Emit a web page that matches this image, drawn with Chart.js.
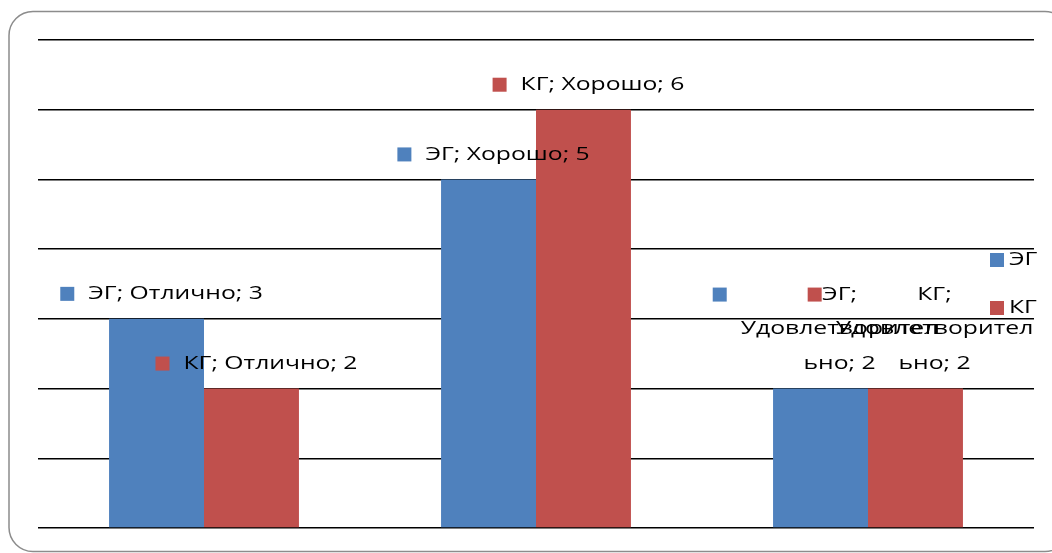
<!DOCTYPE html>
<html>
<head>
<meta charset="utf-8">
<script src="https://cdn.jsdelivr.net/npm/chart.js@4/dist/chart.umd.min.js"></script>
<style>
  html, body { margin: 0; padding: 0; background: #fff; }
  #wrap { position: relative; width: 1052px; height: 553px; }
</style>
</head>
<body>
<div id="wrap"><canvas id="chart" width="1052" height="553"></canvas></div>
<script>
// оценки по группам
const categories = ['Отлично', 'Хорошо', 'Удовлетворительно'];
const seriesNames = ['ЭГ', 'КГ'];
const egValues = [3, 5, 2];
const kgValues = [2, 6, 2];
const seriesColors = ['#4F81BD', '#C0504D'];

const FONT = '19px "Open Sans", sans-serif';
const SX = 1.3; // растяжка текста по горизонтали

// рамка вокруг диаграммы
const framePlugin = {
    id: 'frame',
    beforeDraw(chart) {
        const { ctx } = chart;
        ctx.save();
        ctx.strokeStyle = '#8c8c8c';
        ctx.lineWidth = 1.5;
        ctx.beginPath();
        ctx.roundRect(9, 11.5, 1060, 540, 24);
        ctx.stroke();
        ctx.restore();
    }
};

function textW(ctx, t) { return ctx.measureText(t).width * SX; }

function drawText(ctx, t, x, y) {
    ctx.save();
    ctx.translate(x, y);
    ctx.scale(SX, 1);
    ctx.fillText(t, 0, 0);
    ctx.restore();
}

// перенос строки, длинные слова режутся по символам
function wrapText(ctx, text, maxWidth) {
    const lines = [];
    let line = '';
    text.split(' ').forEach(word => {
        const test = line ? line + ' ' + word : word;
        if (textW(ctx, test) <= maxWidth) { line = test; return; }
        if (line) lines.push(line);
        line = '';
        while (textW(ctx, word) > maxWidth) {
            let n = word.length;
            while (n > 1 && textW(ctx, word.slice(0, n)) > maxWidth) n--;
            lines.push(word.slice(0, n));
            word = word.slice(n);
        }
        line = word;
    });
    if (line) lines.push(line);
    return lines;
}

// подписи данных: ключ легенды + "ряд; категория; значение"
const labelPlugin = {
    id: 'barLabels',
    afterDatasetsDraw(chart) {
        const { ctx } = chart;
        ctx.save();
        ctx.font = FONT;
        ctx.textBaseline = 'middle';
        ctx.textAlign = 'center';
        chart.data.datasets.forEach((ds, di) => {
            chart.getDatasetMeta(di).data.forEach((bar, i) => {
                const text = `${ds.label}; ${chart.data.labels[i]}; ${ds.data[i]}`;
                const lines = wrapText(ctx, text, 201);
                const blockW = Math.max(...lines.map(l => textW(ctx, l)));
                const sq = 14, gap = 14, lh = 34.5;
                const left = bar.x + 5 - (sq + gap + blockW) / 2;
                const lastY = bar.y - 25;
                const firstY = lastY - (lines.length - 1) * lh;
                ctx.fillStyle = ds.backgroundColor;
                ctx.fillRect(left, firstY - sq / 2, sq, sq);
                ctx.fillStyle = '#000';
                const cx = left + sq + gap + blockW / 2;
                lines.forEach((l, k) => drawText(ctx, l, cx, firstY + k * lh));
            });
        });
        ctx.restore();
    }
};

// легенда справа поверх области построения
const legendPlugin = {
    id: 'sideLegend',
    afterDraw(chart) {
        const { ctx } = chart;
        ctx.save();
        ctx.font = FONT;
        ctx.textBaseline = 'middle';
        ctx.textAlign = 'left';
        chart.data.datasets.forEach((ds, i) => {
            const y = 260 + i * 48;
            ctx.fillStyle = ds.backgroundColor;
            ctx.fillRect(990, y - 7, 14, 14);
            ctx.fillStyle = '#000';
            drawText(ctx, ds.label, 1009, y);
        });
        ctx.restore();
    }
};

new Chart(document.getElementById('chart'), {
    type: 'bar',
    data: {
        labels: categories,
        datasets: [
            { label: seriesNames[0], data: egValues, backgroundColor: seriesColors[0] },
            { label: seriesNames[1], data: kgValues, backgroundColor: seriesColors[1] }
        ]
    },
    options: {
        responsive: false,
        animation: false,
        layout: { padding: { left: 38, top: 40, right: 18, bottom: 25 } },
        datasets: { bar: { categoryPercentage: 0.572, barPercentage: 1, borderWidth: 0 } },
        plugins: { legend: { display: false }, tooltip: { enabled: false } },
        scales: {
            x: {
                grid: { display: false, drawTicks: false },
                border: { display: false },
                ticks: { display: false }
            },
            y: {
                min: 0, max: 7,
                grid: { color: '#000', lineWidth: 1.5, drawTicks: false },
                border: { display: false },
                ticks: { display: false, stepSize: 1 }
            }
        }
    },
    plugins: [framePlugin, labelPlugin, legendPlugin]
});
</script>
</body>
</html>
